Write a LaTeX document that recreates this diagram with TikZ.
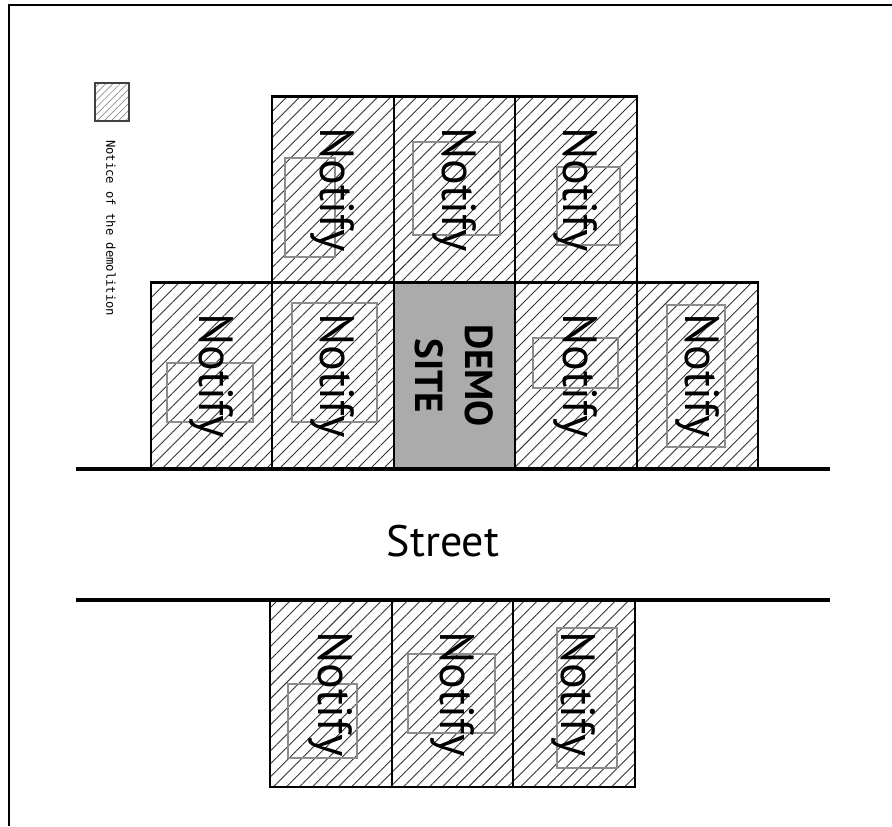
\documentclass[tikz,border=0pt]{standalone}
\usepackage{fontspec}
\setsansfont{PT Sans}
\setmonofont{DejaVu Sans Mono}
\usetikzlibrary{positioning,patterns.meta}

\begin{document}
\begin{tikzpicture}[
  x=0.5pt, y=-0.5pt,
  node distance=0pt,
  plot/.style={draw=black, line width=1.1pt, minimum width=60.75pt, minimum height=93pt, inner sep=0pt, outer sep=0pt},
  lot/.style={plot, pattern={Lines[angle=45,distance=4.6pt,line width=0.45pt]}, pattern color=black!80},
  site/.style={plot, fill=black!33},
  notice/.style={draw=black!45, line width=0.9pt},
  tag/.style={rotate=-90, font=\sffamily\fontsize{24}{28}\selectfont},
  street/.style={line width=1.6pt}
]
\useasboundingbox (0,0) rectangle (892,826);

% Frame
\draw[line width=1.1pt] (9,826) -- (9,5) -- (892,5);

% Legend
\draw[draw=black!75, line width=0.9pt, pattern={Lines[angle=45,distance=2.5pt,line width=0.35pt]}, pattern color=black!45] (95,83) rectangle (129,121);
\node[rotate=-90, anchor=west, font=\ttfamily\fontsize{6.1}{7}\selectfont] (key) at (111,133) {Notice of the demolition};

% Middle row
\node[site] (site) at (454.5,375.5) {};
\node[lot, left=of site] (m2) {};
\node[lot, left=of m2] (m1) {};
\node[lot, right=of site] (m4) {};
\node[lot, right=of m4] (m5) {};

% Top row
\node[lot, above=of site] (t2) {};
\node[lot, left=of t2] (t1) {};
\node[lot, right=of t2] (t3) {};

% Bottom row
\node[lot] (b2) at (452.5,694) {};
\node[lot, left=of b2] (b1) {};
\node[lot, right=of b2] (b3) {};

% Notices
\draw[notice] (285,158) rectangle (335,257);
\draw[notice] (413,142) rectangle (500,235);
\draw[notice] (557,167) rectangle (620,245);
\draw[notice] (167,363) rectangle (253,422);
\draw[notice] (292,303) rectangle (377,422);
\draw[notice] (533,338) rectangle (618,388);
\draw[notice] (667,305) rectangle (725,447);
\draw[notice] (288,684) rectangle (357,758);
\draw[notice] (408,654) rectangle (495,733);
\draw[notice] (557,628) rectangle (617,768);

% Labels
\foreach \b in {t1,t2,t3,m1,m2,m4,m5,b1,b2,b3}
  \node[tag] (\b-txt) at (\b) {Notify};
\node[rotate=-90, align=center, font=\sffamily\bfseries\fontsize{19.5}{25}\selectfont] (site-txt) at (site) {DEMO\\SITE};

% Street
\draw[street] (76,469) -- (830,469);
\draw[street] (76,600) -- (830,600);
\node[font=\sffamily\fontsize{22}{26}\selectfont] (street) at (443,541) {Street};

\end{tikzpicture}
\end{document}
